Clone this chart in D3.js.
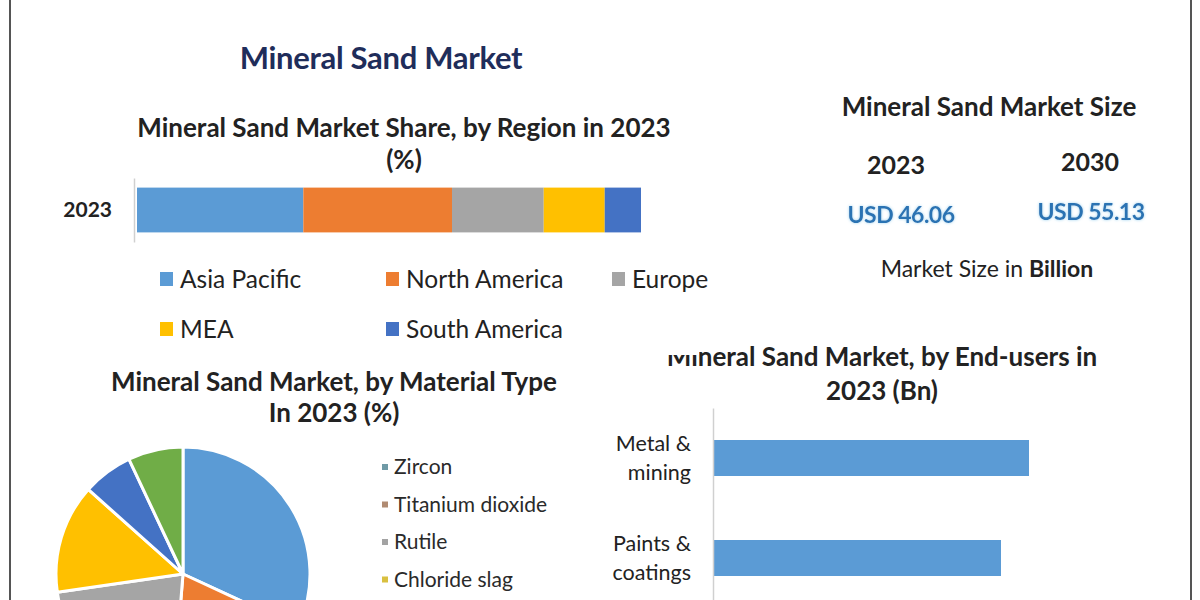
<!DOCTYPE html>
<html>
<head>
<meta charset="utf-8">
<script src="https://cdn.jsdelivr.net/npm/d3@7"></script>
<style>
  html, body { margin: 0; padding: 0; background: #ffffff; }
  svg { display: block; font-family: Lato, "Noto Sans", sans-serif; }
</style>
</head>
<body>
<svg id="chart" width="1200" height="600"></svg>
<script>
// ---------- DATA ----------
const regionYear = ["2023"];
const regions = ["Asia Pacific", "North America", "Europe", "MEA", "South America"];
const regionShare = [33.0, 29.5, 18.2, 12.1, 7.2];
const regionColors = ["#5b9bd5", "#ed7d31", "#a5a5a5", "#ffc000", "#4472c4"];

const sizeYears = ["2023", "2030"];
const sizeValues = ["USD 46.06", "USD 55.13"];

const materials = ["Zircon", "Titanium dioxide", "Rutile", "Chloride slag", "Ilmenite", "Others"];
const materialShare = [31.9, 19.4, 21.4, 13.9, 6.4, 7.0];
const materialColors = ["#5b9bd5", "#ed7d31", "#a5a5a5", "#ffc000", "#4472c4", "#70ad47"];
const materialLegendColors = ["#6f9aa6", "#b08b72", "#a3a3a3", "#d9c040"];

const endUsers = ["Metal & mining", "Paints & coatings"];
const endUserValues = [15.8, 14.4];

// ---------- SETUP ----------
const svg = d3.select("#chart");
const titleSize = 26;

// frame lines
svg.append("line").attr("x1", 10).attr("x2", 10).attr("y1", 0).attr("y2", 600)
  .attr("stroke", "#555").attr("stroke-width", 2);
svg.append("line").attr("x1", 1191).attr("x2", 1191).attr("y1", 0).attr("y2", 600)
  .attr("stroke", "#555").attr("stroke-width", 2);

// main title
svg.append("text").attr("x", 381).attr("y", 69).attr("text-anchor", "middle")
  .attr("font-size", 31).attr("font-weight", 700).attr("fill", "#1f2d5a")
  .attr("letter-spacing", -0.3)
  .text("Mineral Sand Market");

// ---------- REGION STACKED BAR ----------
svg.append("text").attr("x", 404).attr("y", 137).attr("text-anchor", "middle")
  .attr("font-size", titleSize).attr("font-weight", 700).attr("fill", "#222")
  .text("Mineral Sand Market Share, by Region in 2023");
svg.append("text").attr("x", 404).attr("y", 169).attr("text-anchor", "middle")
  .attr("font-size", titleSize).attr("font-weight", 700).attr("fill", "#222")
  .text("(%)");

const xR = d3.scaleLinear().domain([0, 100]).range([137, 641]);
const yR = d3.scaleBand().domain(regionYear).range([178, 242]).paddingInner(0.3).paddingOuter(0.15);

let cum = 0;
const stacked = regionShare.map((v, i) => { const s = { name: regions[i], x0: cum, x1: cum + v, c: regionColors[i] }; cum += v; return s; });

svg.append("g").selectAll("rect").data(stacked).join("rect")
  .attr("x", d => xR(d.x0)).attr("width", d => xR(d.x1) - xR(d.x0))
  .attr("y", yR("2023")).attr("height", yR.bandwidth())
  .attr("fill", d => d.c);

const axR = svg.append("g").attr("transform", "translate(134,0)")
  .call(d3.axisLeft(yR).tickSize(0).tickPadding(22));
axR.select(".domain").attr("stroke", "#d0d0d0").attr("stroke-width", 1.5);
axR.selectAll("text").attr("font-size", 21).attr("font-weight", 700).attr("fill", "#222")
  .attr("font-family", "Lato, 'Noto Sans', sans-serif");

// legend
const legPos = [[160, 279], [386, 279], [612, 279], [160, 329], [386, 329]];
const legR = svg.append("g").selectAll("g").data(regions).join("g")
  .attr("transform", (d, i) => `translate(${legPos[i][0]},${legPos[i][1]})`);
legR.append("rect").attr("x", 0).attr("y", -7).attr("width", 13).attr("height", 14)
  .attr("fill", (d, i) => regionColors[i]);
legR.append("text").attr("x", 20).attr("y", 0).attr("dy", "0.35em")
  .attr("font-size", 24.5).attr("fill", "#222").text(d => d);

// ---------- MARKET SIZE ----------
svg.append("text").attr("x", 989).attr("y", 116).attr("text-anchor", "middle")
  .attr("font-size", titleSize).attr("font-weight", 700).attr("fill", "#222")
  .text("Mineral Sand Market Size");

const sizeX = [896, 1090];
const sizeYrY = [174, 171];
const sizeValY = [223, 220];

const defs = svg.append("defs");
const glow = defs.append("filter").attr("id", "glow").attr("x", "-20%").attr("y", "-40%").attr("width", "140%").attr("height", "180%");
glow.append("feGaussianBlur").attr("in", "SourceAlpha").attr("stdDeviation", 1.6).attr("result", "b");
glow.append("feFlood").attr("flood-color", "#9fd3f0").attr("result", "f");
glow.append("feComposite").attr("in", "f").attr("in2", "b").attr("operator", "in").attr("result", "g");
const fm = glow.append("feMerge");
fm.append("feMergeNode").attr("in", "g");
fm.append("feMergeNode").attr("in", "SourceGraphic");

svg.append("g").selectAll("text").data(sizeYears).join("text")
  .attr("x", (d, i) => sizeX[i]).attr("y", (d, i) => sizeYrY[i]).attr("text-anchor", "middle")
  .attr("font-size", 25).attr("font-weight", 700).attr("fill", "#222").text(d => d);

svg.append("g").selectAll("text").data(sizeValues).join("text")
  .attr("x", (d, i) => sizeX[i] + (i === 0 ? 5 : 1)).attr("y", (d, i) => sizeValY[i]).attr("text-anchor", "middle")
  .attr("font-size", 23).attr("font-weight", 700).attr("fill", "#2b73b3")
  .attr("letter-spacing", -0.5).attr("filter", "url(#glow)").text(d => d);

const ms = svg.append("text").attr("x", 987).attr("y", 277).attr("text-anchor", "middle")
  .attr("font-size", 23).attr("fill", "#222");
ms.append("tspan").text("Market Size in ");
ms.append("tspan").attr("font-weight", 700).text("Billion");

// ---------- MATERIAL PIE ----------
svg.append("text").attr("x", 334).attr("y", 391).attr("text-anchor", "middle")
  .attr("font-size", titleSize).attr("font-weight", 700).attr("fill", "#222")
  .text("Mineral Sand Market, by Material Type");
svg.append("text").attr("x", 334).attr("y", 422).attr("text-anchor", "middle")
  .attr("font-size", titleSize).attr("font-weight", 700).attr("fill", "#222")
  .text("In 2023 (%)");

const pieData = d3.pie().sort(null).value(d => d.v)(materials.map((m, i) => ({ name: m, v: materialShare[i], c: materialColors[i] })));
const arc = d3.arc().innerRadius(0).outerRadius(127);
svg.append("g").attr("transform", "translate(183,574)")
  .selectAll("path").data(pieData).join("path")
  .attr("d", arc).attr("fill", d => d.data.c)
  .attr("stroke", "#fff").attr("stroke-width", 3).attr("stroke-linejoin", "round");

// legend (only the entries that fit inside the picture)
const legM = svg.append("g").selectAll("g").data(materials.slice(0, materialLegendColors.length)).join("g")
  .attr("transform", (d, i) => `translate(382,${467 + i * 37.5})`);
legM.append("rect").attr("x", 0).attr("y", -3).attr("width", 6).attr("height", 6)
  .attr("fill", (d, i) => materialLegendColors[i]);
legM.append("text").attr("x", 12).attr("y", 0).attr("dy", "0.35em")
  .attr("font-size", 21).attr("fill", "#2a2a2a").text(d => d);

// ---------- END-USER BARS ----------
svg.append("text").attr("x", 882).attr("y", 366).attr("text-anchor", "middle")
  .attr("font-size", titleSize).attr("font-weight", 700).attr("fill", "#222")
  .text("Mineral Sand Market, by End-users in");
// the reference has the top of the first letters hidden behind a white panel
svg.append("rect").attr("x", 660).attr("y", 340).attr("width", 39).attr("height", 15).attr("fill", "#fff");
svg.append("text").attr("x", 882).attr("y", 400).attr("text-anchor", "middle")
  .attr("font-size", titleSize).attr("font-weight", 700).attr("fill", "#222")
  .text("2023 (Bn)");

const xE = d3.scaleLinear().domain([0, 20]).range([713, 1113]);
const yE = d3.scaleBand().domain(endUsers).range([408, 608]).paddingInner(0.64).paddingOuter(0.32);

svg.append("g").selectAll("rect").data(endUsers).join("rect")
  .attr("x", xE(0)).attr("width", (d, i) => xE(endUserValues[i]) - xE(0))
  .attr("y", d => yE(d)).attr("height", yE.bandwidth())
  .attr("fill", "#5b9bd5");

const axE = svg.append("g").attr("transform", "translate(713,0)")
  .call(d3.axisLeft(yE).tickSize(0).tickPadding(23).tickFormat(() => ""));
axE.select(".domain").attr("stroke", "#d0d0d0").attr("stroke-width", 1.5);
axE.selectAll(".tick").each(function (d) {
  const parts = d.split("& ");
  const t = d3.select(this).select("text").attr("font-size", 21.5).attr("fill", "#222")
    .attr("font-family", "Lato, 'Noto Sans', sans-serif").attr("dy", null);
  t.append("tspan").attr("x", -22).attr("y", -14.5).attr("dy", "0.35em").text(parts[0] + "&");
  t.append("tspan").attr("x", -22).attr("y", 14.5).attr("dy", "0.35em").text(parts[1]);
});
</script>
</body>
</html>
